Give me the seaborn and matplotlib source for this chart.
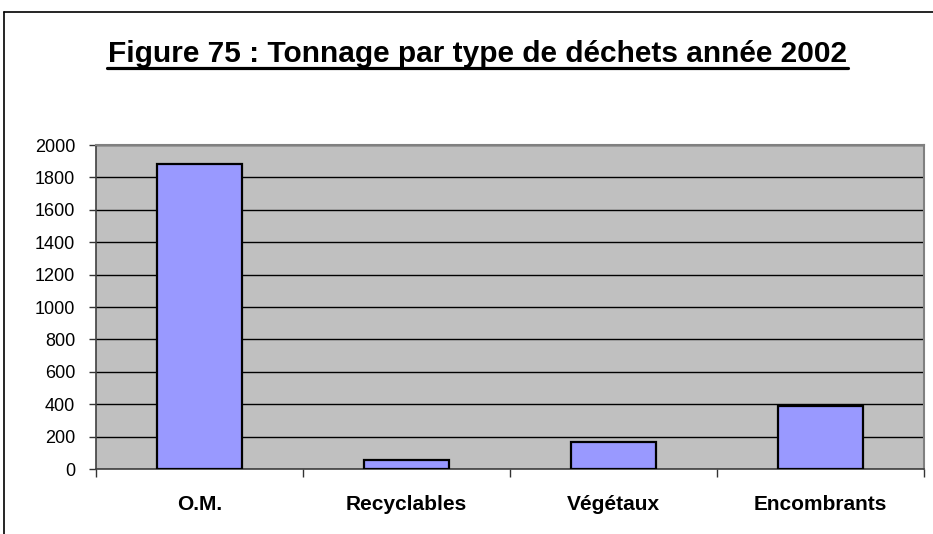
import matplotlib
matplotlib.use("Agg")
import matplotlib.pyplot as plt
from matplotlib.lines import Line2D
from matplotlib.ticker import FixedLocator
import seaborn as sns
import pandas as pd

categories = ["O.M.", "Recyclables", "Végétaux", "Encombrants"]
tonnage = [1885, 58, 167, 388]
y_ticks = [0, 200, 400, 600, 800, 1000, 1200, 1400, 1600, 1800, 2000]

sns.set_theme(style="white")
plt.rcParams["font.family"] = ["Liberation Sans", "DejaVu Sans"]
plt.rcParams["text.color"] = "black"
plt.rcParams["xtick.color"] = "black"
plt.rcParams["ytick.color"] = "black"

df = pd.DataFrame({"type": categories, "tonnage": tonnage})

fig = plt.figure(figsize=(9.33, 5.34), dpi=100)
fig.patch.set_facecolor("white")
ax = fig.add_axes([96 / 933, 1 - 469 / 534, (924 - 96) / 933, (469 - 145) / 534])
ax.set_facecolor("#C0C0C0")

sns.barplot(data=df, x="type", y="tonnage", color="#9999FF", saturation=1,
            width=0.41, edgecolor="black", linewidth=1.6, ax=ax, zorder=3)

ax.set_ylim(0, 2000)
ax.set_xlim(-0.5, len(categories) - 0.5)
ax.set_yticks(y_ticks)
ax.yaxis.grid(True, color="black", linewidth=1.0, zorder=1)
ax.xaxis.grid(False)
ax.set_axisbelow(True)

ax.set_xlabel("")
ax.set_ylabel("")
ax.tick_params(axis="y", which="major", direction="out", length=5, width=1,
               color="#333333", labelcolor="black", labelsize=13, pad=10, left=True)
ax.tick_params(axis="x", which="major", length=0, labelsize=15, labelcolor="black", pad=19)
ax.xaxis.set_minor_locator(FixedLocator([i - 0.5 for i in range(len(categories) + 1)]))
ax.tick_params(axis="x", which="minor", direction="out", length=6, width=1,
               color="#333333", bottom=True)
for lab in ax.get_xticklabels():
    lab.set_fontweight("bold")

for side in ["top", "right"]:
    ax.spines[side].set_color("#808080")
    ax.spines[side].set_linewidth(1.5)
for side in ["left", "bottom"]:
    ax.spines[side].set_color("#404040")
    ax.spines[side].set_linewidth(1.2)

fig.text(477.5 / 933, 1 - 62 / 534, "Figure 75 : Tonnage par type de déchets année 2002",
         ha="center", va="baseline", fontsize=21.5, fontweight="bold", color="black")
# underline under the title
fig.add_artist(Line2D([107 / 933, 848 / 933], [1 - 67.5 / 534, 1 - 67.5 / 534],
                      color="black", linewidth=2.3))

# chart area frame (left and top edges)
fig.add_artist(Line2D([4 / 933, 4 / 933], [0, 1 - 12 / 534], color="black", linewidth=1.2))
fig.add_artist(Line2D([4 / 933, 1], [1 - 12 / 534, 1 - 12 / 534], color="black", linewidth=1.2))

fig.savefig("out.png", dpi=100)
